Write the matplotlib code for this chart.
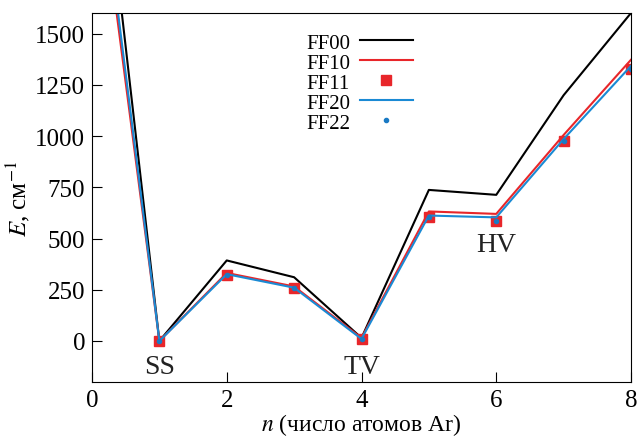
import matplotlib.pyplot as plt
import numpy as np

plt.rcParams['font.family'] = ['Liberation Serif', 'DejaVu Serif']
plt.rcParams['mathtext.fontset'] = 'stix'

n = [0, 1, 2, 3, 4, 5, 6, 7, 8]
ff00 = [2870, 0, 393, 311, 15, 737, 713, 1199, 1600]
ff10 = [2520, 0, 332, 266, 15, 632, 620, 1005, 1372]
ff11 = [2520, 0, 322, 258, 10, 605, 585, 976, 1325]
ff20 = [2610, 0, 326, 260, 10, 612, 603, 985, 1342]
ff22 = [2610, 0, 322, 258, 10, 605, 585, 976, 1325]

labels = ['SS', 'TV', 'HV']
label_x = [1, 4, 6]
label_y = [-125, -125, 470]

fig = plt.figure(figsize=(6.4, 4.39), dpi=100)
ax = fig.add_axes([92/640, 1 - 383/439, (631-92)/640, (383-14)/439])

ax.plot(n, ff00, color='black', lw=1.5, label='FF00')
ax.plot(n, ff10, color='#e8262a', lw=1.5, label='FF10')
ax.plot(n, ff11, ls='none', marker='s', ms=7, color='#e8262a', label='FF11')
ax.plot(n, ff20, color='#1a8ad4', lw=1.5, label='FF20')
ax.plot(n, ff22, ls='none', marker='o', ms=3, color='#1a7ac4', label='FF22')

for t, x, y in zip(labels, label_x, label_y):
    ax.text(x, y, t, fontsize=20, ha='center', va='center', color='#222222')

ax.set_xlim(0, 8)
ax.set_ylim(-200, 1600)
ax.set_xticks([0, 2, 4, 6, 8])
ax.set_yticks([0, 250, 500, 750, 1000, 1250, 1500])
ax.tick_params(direction='in', length=7, labelsize=18, top=False, right=False, pad=5)
ax.set_xlabel(r'$n$ (число атомов Ar)', fontsize=17, labelpad=0)
ax.set_ylabel(r'$E$, см$^{-1}$', fontsize=18, labelpad=2)

ax.legend(loc='upper left', bbox_to_anchor=(0.37, 0.985), frameon=False, markerfirst=False,
          fontsize=15, handlelength=2.5, labelspacing=0.02, handletextpad=0.5,
          borderpad=0.2)

fig.savefig('out.png', dpi=100)
